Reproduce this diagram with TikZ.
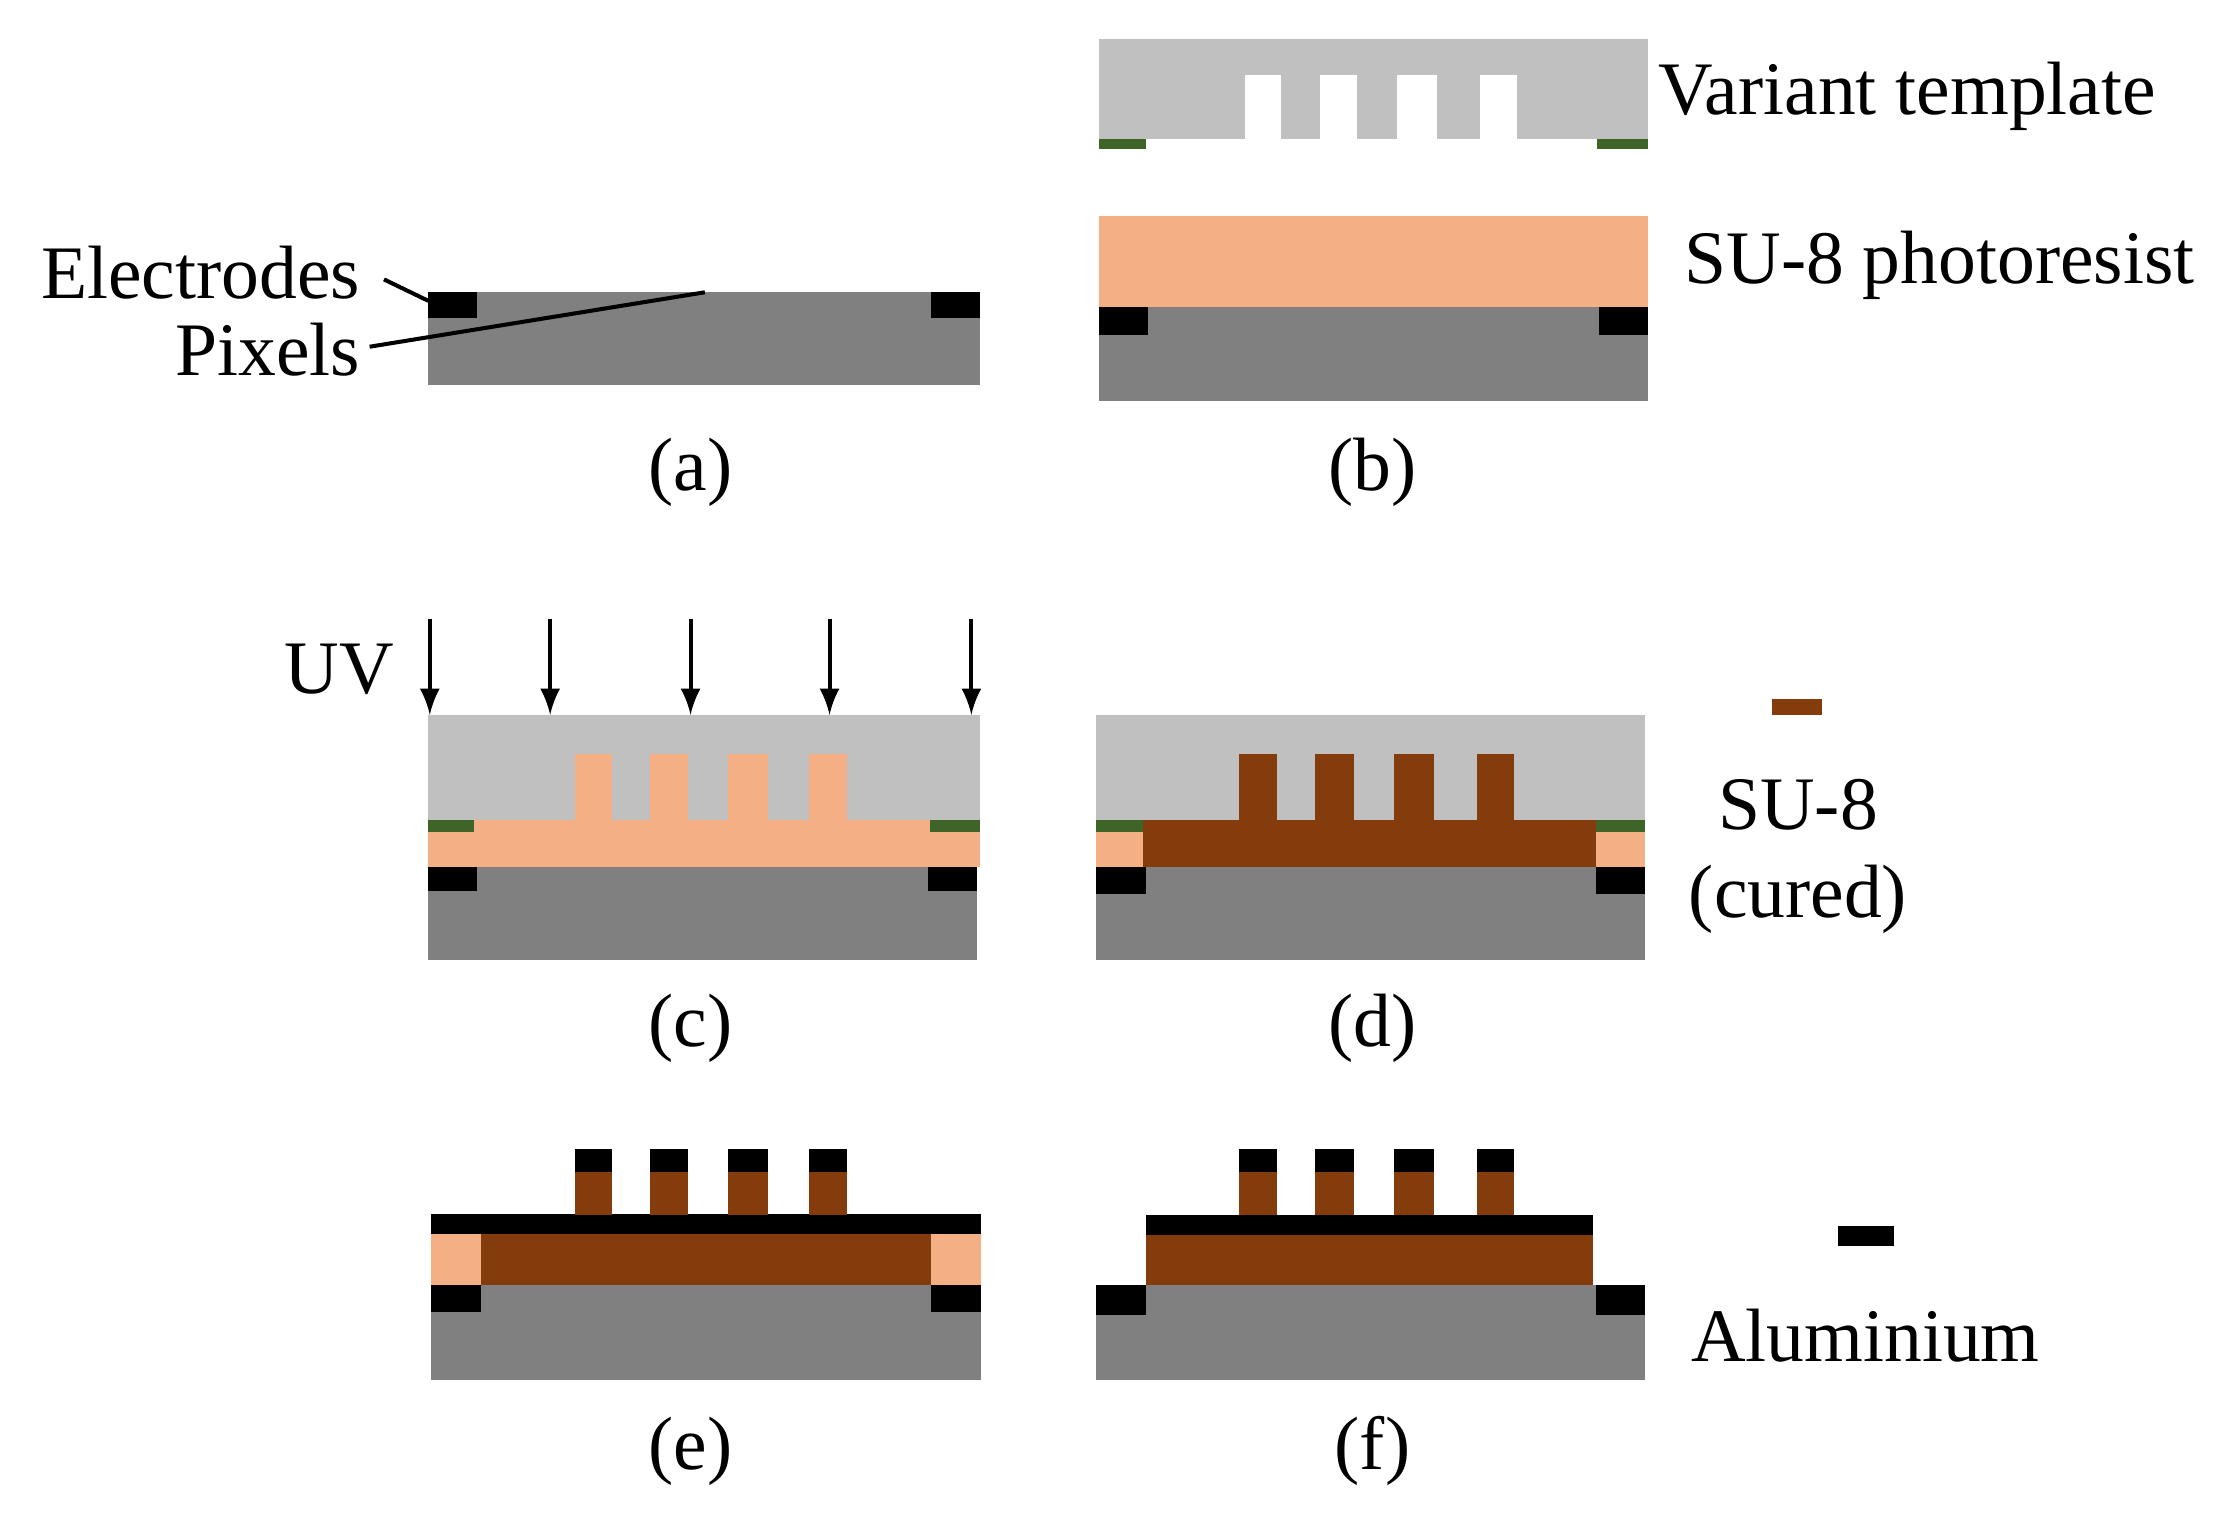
\documentclass[tikz,border=0pt]{standalone}
\usepackage{fontspec}
\setmainfont{Liberation Serif}
\tikzstyle{substrate}=[fill={pixelgray}]
\tikzstyle{electrode}=[fill=black]
\tikzstyle{template}=[fill={templategray}]
\tikzstyle{resist}=[fill={resistpeach}]
\tikzstyle{cured}=[fill={curedbrown}]
\tikzstyle{spacer}=[fill={spacergreen}]
\tikzstyle{caption}=[inner sep=0pt, font=\fontsize{15}{17}\selectfont]
\definecolor{pixelgray}{HTML}{808080}
\definecolor{templategray}{HTML}{C0C0C0}
\definecolor{resistpeach}{HTML}{F4B084}
\definecolor{curedbrown}{HTML}{843C0C}
\definecolor{spacergreen}{HTML}{3F6427}
\begin{document}
\begin{tikzpicture}[x=0.01cm, y=-0.01cm]
      \useasboundingbox (0,0) rectangle (1560,1057);
      % (a)
      \fill[substrate] (299,204) rectangle (684,269);
      \fill[electrode] (299,204) rectangle (333,222);
      \fill[electrode] (650,204) rectangle (684,222);
      \node (electrodes) at (252,190) [caption, anchor=east] {Electrodes};
      \node (pixels) at (252,244) [caption, anchor=east] {Pixels};
      \coordinate (electrode-tip) at (299,210);
      \coordinate (pixel-tip) at (492,204);
      \draw[thick] (268,195) -- (electrode-tip);
      \draw[thick] (258,242) -- (pixel-tip);
      \node (cap-a) at (482,330) [caption] {(a)};
      % (b)
      \fill[template] (767,27) rectangle (1150,97);
      \foreach \x/\w in {869/25, 921/26, 975/28, 1033/26}
            \fill[white] (\x,52) rectangle ++(\w,46);
      \fill[spacer] (767,97) rectangle (800,104);
      \fill[spacer] (1115,97) rectangle (1150,104);
      \fill[resist] (767,151) rectangle (1150,214);
      \fill[substrate] (767,214) rectangle (1150,280);
      \fill[electrode] (767,214) rectangle (801,234);
      \fill[electrode] (1116,214) rectangle (1150,234);
      \node (template-label) at (1157,67) [caption, anchor=west] {Variant template};
      \node (resist-label) at (1175,185) [caption, anchor=west] {SU-8 photoresist};
      \node (cap-b) at (958,330) [caption] {(b)};
      % (c)
      \fill[template] (299,499) rectangle (684,572);
      \foreach \x/\w in {401/26, 454/26, 508/28, 565/26}
            \fill[resist] (\x,526) rectangle ++(\w,47);
      \fill[resist] (299,572) rectangle (684,605);
      \fill[spacer] (299,572) rectangle (331,581);
      \fill[spacer] (649,572) rectangle (684,581);
      \fill[substrate] (299,605) rectangle (682,670);
      \fill[electrode] (299,605) rectangle (333,622);
      \fill[electrode] (648,605) rectangle (682,622);
      \node (uv) at (237,467) [caption] {UV};
      \foreach \x [count=\i] in {300, 384, 482, 579, 678} {
            \coordinate (uv-top-\i) at (\x,432);
            \coordinate (uv-bot-\i) at (\x,499);
            \draw[thick, -latex] (uv-top-\i) -- (uv-bot-\i);
      }
      \node (cap-c) at (482,718) [caption] {(c)};
      % (d)
      \fill[template] (765,499) rectangle (1148,572);
      \foreach \x/\w in {865/26, 918/27, 973/28, 1031/26}
            \fill[cured] (\x,526) rectangle ++(\w,47);
      \fill[resist] (765,572) rectangle (1148,605);
      \fill[cured] (798,572) rectangle (1114,605);
      \fill[spacer] (765,572) rectangle (798,581);
      \fill[spacer] (1114,572) rectangle (1148,581);
      \fill[substrate] (765,605) rectangle (1148,670);
      \fill[electrode] (765,605) rectangle (800,624);
      \fill[electrode] (1114,605) rectangle (1148,624);
      \fill[cured] (1237,488) rectangle (1272,499);
      \node (cured-label1) at (1255,562) [caption] {SU-8};
      \node (cured-label2) at (1255,628) [caption] {(cured)};
      \node (cap-d) at (958,718) [caption] {(d)};
      % (e)
      \fill[substrate] (301,897) rectangle (685,963);
      \fill[electrode] (301,897) rectangle (336,916);
      \fill[electrode] (650,897) rectangle (685,916);
      \fill[resist] (301,861) rectangle (685,897);
      \fill[cured] (336,861) rectangle (650,897);
      \fill[electrode] (301,847) rectangle (685,861);
      \foreach \x/\w in {401/26, 454/26, 508/28, 565/26} {
            \fill[cured] (\x,818) rectangle ++(\w,30);
            \fill[electrode] (\x,802) rectangle ++(\w,16);
      }
      \node (cap-e) at (482,1013) [caption] {(e)};
      % (f)
      \fill[substrate] (765,897) rectangle (1148,963);
      \fill[electrode] (765,897) rectangle (800,918);
      \fill[electrode] (1114,897) rectangle (1148,918);
      \fill[cured] (800,861) rectangle (1112,897);
      \fill[electrode] (800,848) rectangle (1112,862);
      \foreach \x/\w in {865/26, 918/27, 973/28, 1031/26} {
            \fill[cured] (\x,818) rectangle ++(\w,30);
            \fill[electrode] (\x,802) rectangle ++(\w,16);
      }
      \fill[electrode] (1283,856) rectangle (1322,870);
      \node (al-label) at (1302,932) [caption] {Aluminium};
      \node (cap-f) at (958,1013) [caption] {(f)};
\end{tikzpicture}
\end{document}
